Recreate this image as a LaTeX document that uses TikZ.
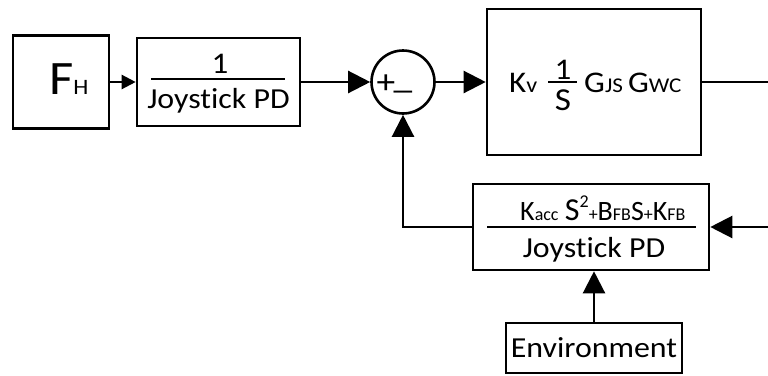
\documentclass[tikz,border=0pt]{standalone}
\usepackage{fontspec}
\setmainfont{Carlito}[Ligatures=NoCommon, FakeStretch=1.1]
\newfontfamily\plainfont{Carlito}[Ligatures=NoCommon]
\usetikzlibrary{arrows.meta}
\newcommand{\sm}[1]{{\fontsize{21}{21}\selectfont #1}}
\newcommand{\fs}[1]{\fontsize{#1}{#1}\selectfont}
\begin{document}
\begin{tikzpicture}[x=1pt,y=-1pt,
  box/.style={draw, line width=2.6pt, inner sep=0pt},
  conn/.style={line width=2.3pt},
  arr/.style={-{Triangle[length=22pt,width=22pt]}},
  arrsmall/.style={-{Triangle[length=14pt,width=14pt]}},
  txt/.style={inner sep=0pt, font=\fs{29}},
  fracline/.style={line width=2.6pt}]
\useasboundingbox (0,0) rectangle (768,375);

% blocks
\node[box, minimum width=96pt, minimum height=93pt] (fh) at (61,82) {};
\node[txt, anchor=base west] (fhtext) at (49,94) {{\fs{48}F}{\fs{22}H}};

\node[box, minimum width=163pt, minimum height=88pt] (jpd) at (218.5,82) {};
\coordinate (jl1) at (151,79);
\coordinate (jl2) at (285,79);
\draw[fracline] (jl1) -- (jl2);
\node[txt, anchor=base, font=\fs{30}] (jnum) at (220,73) {1};
\node[txt, anchor=base, font=\fs{29}] (jden) at (218.5,108) {Joystick PD};

\node[circle, draw, line width=2.6pt, minimum size=63pt, inner sep=0pt] (sum) at (403,82) {};
\node[txt, anchor=base, font=\fs{34}] (plus) at (386,93) {+};
\node[txt, anchor=base, font=\fs{34}] (minus) at (403,88) {\_};

\node[box, minimum width=214pt, minimum height=146pt] (plant) at (594,82) {};
\node[txt, anchor=base west, font=\fs{30}] (kv) at (509,92) {K{\fs{22}v}};
\coordinate (pl1) at (548,82);
\coordinate (pl2) at (577,82);
\draw[fracline] (pl1) -- (pl2);
\node[txt, anchor=base, font=\fs{30}] (pnum) at (563,79) {1};
\node[txt, anchor=base, font=\fs{32}] (pden) at (563,110) {S};
\node[txt, anchor=base west, font=\fs{30}] (gg) at (584,92) {G\sm{JS}\,G\sm{WC}};

\node[box, minimum width=236pt, minimum height=86pt] (fb) at (591,227) {};
\coordinate (fl1) at (487,227);
\coordinate (fl2) at (696,227);
\draw[fracline] (fl1) -- (fl2);
\node[txt, anchor=base west, font=\plainfont\fs{28}] (fnum) at (520,220)
  {K{\fs{18}acc} {\fs{32}S}\raisebox{13pt}{{\fs{18}2}}{\fs{18}+}B{\fs{18}FB}S{\fs{18}+}K{\fs{18}FB}};
\node[txt, anchor=base, font=\fs{29}] (fden) at (594,257) {Joystick PD};

\node[box, minimum width=176pt, minimum height=50pt, font=\fs{29}] (env) at (594,348) {Environment};

% connectors
\coordinate (outR) at (768,82);
\coordinate (inR) at (768,227);
\draw[conn, arrsmall] (fh.east) -- (jpd.west);
\draw[conn, arr] (jpd.east) -- (sum.west);
\draw[conn, arr] (sum.east) -- (plant.west);
\draw[conn] (plant.east) -- (outR);
\draw[conn, arr] (inR) -- (fb.east);
\draw[conn, arr] (fb.west) -| (sum.south);
\draw[conn, arr] (env.north) -- (env.north |- fb.south);
\end{tikzpicture}
\end{document}
